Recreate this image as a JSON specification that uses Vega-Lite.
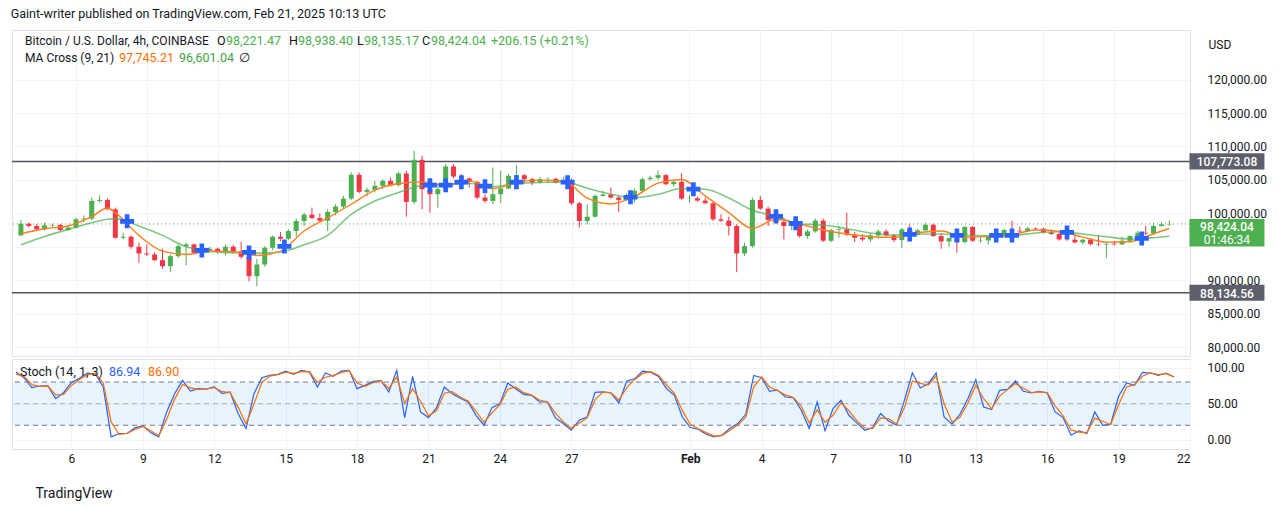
{
"$schema":"https://vega.github.io/schema/vega-lite/v6.json",
"background":"white",
"padding":{"left":10,"top":8,"right":10,"bottom":0},
"title":{"text":"Gaint-writer published on TradingView.com, Feb 21, 2025 10:13 UTC","anchor":"start","fontSize":12.5,"fontWeight":"normal","font":"Roboto","color":"#131722","offset":9},
"config":{"view":{"stroke":"#e0e3eb"},"axis":{"labelFont":"Roboto","labelFontSize":12,"labelColor":"#131722","titleFont":"Roboto","gridColor":"#f0f3fa"}},
"datasets":{
"candles":[
{"t":"2025-01-03T16:00","o":96718,"h":99018,"l":96618,"c":98468,"k":93.8,"d":91},
{"t":"2025-01-04T00:00","o":98468,"h":98618,"l":97868,"c":98118,"k":86.0,"d":88.3},
{"t":"2025-01-04T08:00","o":98118,"h":98368,"l":97468,"c":97618,"k":72.2,"d":76.3},
{"t":"2025-01-04T16:00","o":97618,"h":98618,"l":97418,"c":98218,"k":74.5,"d":73.8},
{"t":"2025-01-05T00:00","o":98218,"h":98468,"l":97968,"c":98268,"k":74.9,"d":74.8},
{"t":"2025-01-05T08:00","o":98268,"h":98418,"l":97368,"c":97518,"k":56.9,"d":62.3},
{"t":"2025-01-05T16:00","o":97518,"h":98318,"l":97368,"c":97868,"k":65.2,"d":62.7},
{"t":"2025-01-06T00:00","o":97868,"h":99368,"l":97768,"c":99118,"k":79.5,"d":75.3},
{"t":"2025-01-06T08:00","o":99118,"h":99718,"l":98718,"c":99218,"k":85.1,"d":83.5},
{"t":"2025-01-06T16:00","o":99218,"h":102368,"l":99018,"c":101868,"k":92.5,"d":90.3},
{"t":"2025-01-07T00:00","o":101868,"h":102718,"l":101618,"c":102018,"k":91.5,"d":91.9},
{"t":"2025-01-07T08:00","o":102018,"h":102218,"l":100468,"c":100618,"k":73.1,"d":78.7},
{"t":"2025-01-07T16:00","o":100618,"h":100868,"l":96218,"c":96368,"k":3.9,"d":24.6},
{"t":"2025-01-08T00:00","o":96368,"h":97118,"l":96118,"c":96518,"k":8.5,"d":7.2},
{"t":"2025-01-08T08:00","o":96518,"h":96718,"l":94718,"c":95018,"k":8.5,"d":8.5},
{"t":"2025-01-08T16:00","o":95018,"h":95618,"l":92618,"c":94018,"k":16.3,"d":14.0},
{"t":"2025-01-09T00:00","o":94018,"h":95368,"l":93618,"c":93868,"k":19.1,"d":18.3},
{"t":"2025-01-09T08:00","o":93868,"h":94218,"l":92868,"c":93018,"k":9.4,"d":12.3},
{"t":"2025-01-09T16:00","o":93018,"h":94718,"l":91718,"c":92118,"k":3.9,"d":5.5},
{"t":"2025-01-10T00:00","o":92118,"h":93868,"l":91218,"c":93618,"k":38.5,"d":28.2},
{"t":"2025-01-10T08:00","o":93618,"h":95368,"l":93368,"c":95118,"k":63.8,"d":56.3},
{"t":"2025-01-10T16:00","o":95118,"h":95618,"l":92268,"c":95368,"k":82.3,"d":76.7},
{"t":"2025-01-11T00:00","o":95368,"h":95518,"l":93868,"c":94118,"k":67.5,"d":72.0},
{"t":"2025-01-11T08:00","o":94118,"h":95018,"l":93618,"c":94468,"k":70.8,"d":69.9},
{"t":"2025-01-11T16:00","o":94468,"h":95018,"l":94118,"c":94718,"k":70.3,"d":70.4},
{"t":"2025-01-12T00:00","o":94718,"h":94868,"l":94018,"c":94218,"k":73.1,"d":72.3},
{"t":"2025-01-12T08:00","o":94218,"h":95368,"l":93718,"c":95018,"k":63.8,"d":66.6},
{"t":"2025-01-12T16:00","o":95018,"h":95318,"l":94018,"c":94318,"k":66.2,"d":65.4},
{"t":"2025-01-13T00:00","o":94318,"h":95768,"l":93218,"c":93518,"k":36.2,"d":45.2},
{"t":"2025-01-13T08:00","o":93518,"h":93718,"l":89868,"c":90618,"k":15.4,"d":21.7},
{"t":"2025-01-13T16:00","o":90618,"h":93218,"l":89118,"c":92368,"k":63.8,"d":49.3},
{"t":"2025-01-14T00:00","o":92368,"h":95118,"l":92018,"c":94868,"k":86.0,"d":79.3},
{"t":"2025-01-14T08:00","o":94868,"h":96718,"l":94518,"c":96518,"k":89.2,"d":88.2},
{"t":"2025-01-14T16:00","o":96518,"h":97218,"l":95868,"c":96218,"k":90.6,"d":90.2},
{"t":"2025-01-15T00:00","o":96218,"h":97618,"l":96018,"c":97368,"k":95.2,"d":93.8},
{"t":"2025-01-15T08:00","o":97368,"h":99218,"l":96518,"c":98868,"k":90.6,"d":92.0},
{"t":"2025-01-15T16:00","o":98868,"h":100118,"l":98118,"c":99818,"k":96.2,"d":94.5},
{"t":"2025-01-16T00:00","o":99818,"h":100868,"l":99118,"c":99318,"k":93.8,"d":94.6},
{"t":"2025-01-16T08:00","o":99318,"h":100018,"l":98618,"c":98918,"k":73.1,"d":79.3},
{"t":"2025-01-16T16:00","o":98918,"h":100618,"l":97368,"c":100218,"k":92.5,"d":86.7},
{"t":"2025-01-17T00:00","o":100218,"h":101368,"l":99718,"c":101018,"k":87.8,"d":89.3},
{"t":"2025-01-17T08:00","o":101018,"h":102618,"l":100718,"c":102218,"k":95.2,"d":92.9},
{"t":"2025-01-17T16:00","o":102218,"h":106118,"l":102018,"c":105768,"k":96.2,"d":95.9},
{"t":"2025-01-18T00:00","o":105768,"h":106118,"l":103018,"c":103218,"k":70.8,"d":78.5},
{"t":"2025-01-18T08:00","o":103218,"h":103868,"l":102518,"c":103518,"k":75.4,"d":74.0},
{"t":"2025-01-18T16:00","o":103518,"h":104868,"l":103118,"c":104118,"k":80.5,"d":79.0},
{"t":"2025-01-19T00:00","o":104118,"h":105118,"l":103618,"c":104868,"k":82.3,"d":81.8},
{"t":"2025-01-19T08:00","o":104868,"h":105368,"l":104018,"c":104218,"k":66.2,"d":71.0},
{"t":"2025-01-19T16:00","o":104218,"h":106218,"l":104018,"c":105968,"k":96.2,"d":87.2},
{"t":"2025-01-20T00:00","o":105968,"h":106368,"l":99518,"c":101718,"k":30.6,"d":50.3},
{"t":"2025-01-20T08:00","o":101718,"h":109368,"l":101368,"c":108018,"k":87.8,"d":70.7},
{"t":"2025-01-20T16:00","o":108018,"h":108618,"l":100618,"c":103618,"k":38.5,"d":53.3},
{"t":"2025-01-21T00:00","o":103618,"h":104118,"l":100118,"c":102868,"k":30.6,"d":33.0},
{"t":"2025-01-21T08:00","o":102868,"h":104018,"l":100868,"c":103618,"k":44.0,"d":40.0},
{"t":"2025-01-21T16:00","o":103618,"h":107368,"l":103218,"c":107018,"k":73.1,"d":64.4},
{"t":"2025-01-22T00:00","o":107018,"h":107368,"l":105218,"c":105518,"k":63.8,"d":66.6},
{"t":"2025-01-22T08:00","o":105518,"h":105868,"l":104368,"c":105218,"k":57.4,"d":59.3},
{"t":"2025-01-22T16:00","o":105218,"h":105368,"l":103868,"c":104718,"k":52.3,"d":53.8},
{"t":"2025-01-23T00:00","o":104718,"h":104868,"l":102118,"c":102368,"k":33.8,"d":39.4},
{"t":"2025-01-23T08:00","o":102368,"h":102868,"l":101518,"c":101868,"k":20.0,"d":24.1},
{"t":"2025-01-23T16:00","o":101868,"h":106868,"l":101368,"c":102868,"k":44.5,"d":37.2},
{"t":"2025-01-24T00:00","o":102868,"h":106368,"l":101518,"c":103718,"k":50.0,"d":48.4},
{"t":"2025-01-24T08:00","o":103718,"h":105868,"l":103618,"c":105618,"k":78.6,"d":70.0},
{"t":"2025-01-24T16:00","o":105618,"h":107218,"l":105118,"c":105718,"k":70.8,"d":73.2},
{"t":"2025-01-25T00:00","o":105718,"h":105868,"l":104518,"c":105118,"k":62.9,"d":65.2},
{"t":"2025-01-25T08:00","o":105118,"h":105318,"l":104218,"c":104618,"k":61.5,"d":62.0},
{"t":"2025-01-25T16:00","o":104618,"h":105418,"l":104468,"c":105118,"k":52.3,"d":55.1},
{"t":"2025-01-26T00:00","o":105118,"h":105368,"l":104618,"c":105168,"k":52.3,"d":52.3},
{"t":"2025-01-26T08:00","o":105168,"h":105318,"l":104468,"c":104618,"k":30.2,"d":36.8},
{"t":"2025-01-26T16:00","o":104618,"h":105518,"l":104368,"c":104868,"k":22.3,"d":24.7},
{"t":"2025-01-27T00:00","o":104868,"h":105218,"l":101218,"c":101518,"k":13.1,"d":15.9},
{"t":"2025-01-27T08:00","o":101518,"h":101718,"l":97868,"c":98868,"k":26.9,"d":22.7},
{"t":"2025-01-27T16:00","o":98868,"h":101368,"l":98368,"c":99518,"k":31.5,"d":30.2},
{"t":"2025-01-28T00:00","o":99518,"h":102868,"l":99368,"c":102618,"k":65.7,"d":55.5},
{"t":"2025-01-28T08:00","o":102618,"h":103368,"l":102518,"c":102818,"k":66.2,"d":66.0},
{"t":"2025-01-28T16:00","o":102818,"h":103868,"l":102218,"c":102368,"k":64.8,"d":65.3},
{"t":"2025-01-29T00:00","o":102368,"h":102618,"l":100218,"c":102018,"k":50.9,"d":55.0},
{"t":"2025-01-29T08:00","o":102018,"h":103018,"l":101868,"c":102618,"k":81.4,"d":72.3},
{"t":"2025-01-29T16:00","o":102618,"h":103718,"l":101618,"c":103368,"k":84.6,"d":83.6},
{"t":"2025-01-30T00:00","o":103368,"h":105368,"l":103018,"c":105118,"k":95.2,"d":92.0},
{"t":"2025-01-30T08:00","o":105118,"h":105618,"l":104868,"c":105318,"k":93.8,"d":94.3},
{"t":"2025-01-30T16:00","o":105318,"h":106418,"l":105018,"c":105718,"k":87.8,"d":89.6},
{"t":"2025-01-31T00:00","o":105718,"h":105918,"l":104218,"c":104368,"k":70.8,"d":75.9},
{"t":"2025-01-31T08:00","o":104368,"h":104868,"l":104018,"c":104718,"k":61.5,"d":64.3},
{"t":"2025-01-31T16:00","o":104718,"h":106018,"l":102018,"c":102218,"k":31.5,"d":40.6},
{"t":"2025-02-01T00:00","o":102218,"h":102718,"l":101618,"c":102268,"k":16.8,"d":21.3},
{"t":"2025-02-01T08:00","o":102268,"h":102518,"l":101718,"c":101918,"k":14.5,"d":15.2},
{"t":"2025-02-01T16:00","o":101918,"h":102368,"l":101368,"c":101518,"k":7.5,"d":9.7},
{"t":"2025-02-02T00:00","o":101518,"h":101718,"l":98868,"c":99118,"k":3.9,"d":5.0},
{"t":"2025-02-02T08:00","o":99118,"h":99868,"l":98718,"c":98918,"k":6.2,"d":5.5},
{"t":"2025-02-02T16:00","o":98918,"h":99518,"l":96718,"c":98118,"k":15.9,"d":13.0},
{"t":"2025-02-03T00:00","o":98118,"h":98368,"l":91218,"c":94018,"k":22.3,"d":20.4},
{"t":"2025-02-03T08:00","o":94018,"h":95618,"l":93618,"c":95118,"k":35.2,"d":31.3},
{"t":"2025-02-03T16:00","o":95118,"h":102368,"l":94868,"c":102018,"k":89.2,"d":73.0},
{"t":"2025-02-04T00:00","o":102018,"h":102618,"l":100518,"c":100718,"k":86.0,"d":87.0},
{"t":"2025-02-04T08:00","o":100718,"h":101018,"l":98118,"c":99018,"k":67.1,"d":72.8},
{"t":"2025-02-04T16:00","o":99018,"h":100518,"l":98418,"c":98718,"k":68.9,"d":68.3},
{"t":"2025-02-05T00:00","o":98718,"h":99368,"l":96118,"c":98118,"k":59.2,"d":62.1},
{"t":"2025-02-05T08:00","o":98118,"h":98618,"l":97518,"c":98368,"k":58.3,"d":58.6},
{"t":"2025-02-05T16:00","o":98368,"h":98868,"l":96368,"c":96618,"k":40.8,"d":46.1},
{"t":"2025-02-06T00:00","o":96618,"h":97618,"l":96218,"c":97318,"k":15.4,"d":23.0},
{"t":"2025-02-06T08:00","o":97318,"h":99218,"l":97118,"c":98918,"k":52.3,"d":41.2},
{"t":"2025-02-06T16:00","o":98918,"h":99218,"l":95718,"c":95918,"k":12.2,"d":24.2},
{"t":"2025-02-07T00:00","o":95918,"h":97718,"l":95718,"c":97518,"k":43.1,"d":33.9},
{"t":"2025-02-07T08:00","o":97518,"h":98118,"l":96368,"c":97618,"k":54.6,"d":51.1},
{"t":"2025-02-07T16:00","o":97618,"h":100118,"l":96618,"c":96818,"k":33.8,"d":40.1},
{"t":"2025-02-08T00:00","o":96818,"h":97218,"l":95718,"c":96368,"k":23.2,"d":26.3},
{"t":"2025-02-08T08:00","o":96368,"h":96868,"l":95868,"c":96118,"k":13.1,"d":16.2},
{"t":"2025-02-08T16:00","o":96118,"h":97018,"l":95718,"c":96718,"k":16.8,"d":15.7},
{"t":"2025-02-09T00:00","o":96718,"h":97618,"l":96218,"c":97318,"k":36.2,"d":30.3},
{"t":"2025-02-09T08:00","o":97318,"h":97618,"l":96518,"c":96718,"k":26.0,"d":29.1},
{"t":"2025-02-09T16:00","o":96718,"h":96918,"l":95718,"c":96018,"k":20.0,"d":21.8},
{"t":"2025-02-10T00:00","o":96018,"h":97818,"l":94868,"c":97618,"k":54.6,"d":44.2},
{"t":"2025-02-10T08:00","o":97618,"h":98368,"l":96618,"c":96818,"k":92.9,"d":81.4},
{"t":"2025-02-10T16:00","o":96818,"h":97718,"l":96718,"c":97468,"k":71.7,"d":78.1},
{"t":"2025-02-11T00:00","o":97468,"h":98618,"l":97318,"c":98318,"k":77.7,"d":75.9},
{"t":"2025-02-11T08:00","o":98318,"h":98518,"l":96518,"c":96618,"k":92.5,"d":88.1},
{"t":"2025-02-11T16:00","o":96618,"h":97018,"l":94718,"c":95818,"k":31.5,"d":49.9},
{"t":"2025-02-12T00:00","o":95818,"h":96368,"l":95018,"c":96318,"k":21.4,"d":24.5},
{"t":"2025-02-12T08:00","o":96318,"h":96718,"l":94118,"c":95718,"k":35.2,"d":31.0},
{"t":"2025-02-12T16:00","o":95718,"h":98118,"l":95518,"c":97968,"k":56.9,"d":50.4},
{"t":"2025-02-13T00:00","o":97968,"h":98118,"l":95718,"c":95918,"k":83.2,"d":75.3},
{"t":"2025-02-13T08:00","o":95918,"h":96518,"l":95618,"c":95968,"k":45.4,"d":56.8},
{"t":"2025-02-13T16:00","o":95968,"h":96718,"l":95368,"c":96518,"k":41.7,"d":42.8},
{"t":"2025-02-14T00:00","o":96518,"h":97718,"l":96368,"c":96718,"k":68.5,"d":60.5},
{"t":"2025-02-14T08:00","o":96718,"h":97718,"l":96368,"c":97518,"k":69.8,"d":69.5},
{"t":"2025-02-14T16:00","o":97518,"h":98868,"l":96718,"c":97418,"k":81.4,"d":77.9},
{"t":"2025-02-15T00:00","o":97418,"h":98018,"l":97118,"c":97318,"k":67.1,"d":71.4},
{"t":"2025-02-15T08:00","o":97318,"h":98018,"l":97218,"c":97768,"k":64.8,"d":65.5},
{"t":"2025-02-15T16:00","o":97768,"h":97918,"l":97418,"c":97718,"k":67.1,"d":66.4},
{"t":"2025-02-16T00:00","o":97718,"h":97868,"l":97018,"c":97168,"k":64.8,"d":65.5},
{"t":"2025-02-16T08:00","o":97168,"h":97618,"l":96768,"c":96918,"k":38.5,"d":47.0},
{"t":"2025-02-16T16:00","o":96918,"h":97468,"l":95918,"c":96118,"k":30.6,"d":33.2},
{"t":"2025-02-17T00:00","o":96118,"h":96718,"l":95868,"c":96068,"k":6.2,"d":13.5},
{"t":"2025-02-17T08:00","o":96068,"h":96868,"l":95518,"c":95668,"k":12.2,"d":10.4},
{"t":"2025-02-17T16:00","o":95668,"h":96218,"l":95368,"c":96068,"k":8.5,"d":9.7},
{"t":"2025-02-18T00:00","o":96068,"h":96318,"l":95218,"c":95418,"k":38.5,"d":29.6},
{"t":"2025-02-18T08:00","o":95418,"h":96718,"l":95118,"c":95368,"k":20.0,"d":25.6},
{"t":"2025-02-18T16:00","o":95368,"h":95818,"l":93318,"c":95468,"k":21.4,"d":21.0},
{"t":"2025-02-19T00:00","o":95468,"h":95918,"l":95218,"c":95368,"k":60.2,"d":48.5},
{"t":"2025-02-19T08:00","o":95368,"h":96518,"l":95318,"c":95918,"k":78.6,"d":73.1},
{"t":"2025-02-19T16:00","o":95918,"h":96718,"l":95718,"c":96618,"k":75.4,"d":76.4},
{"t":"2025-02-20T00:00","o":96618,"h":97368,"l":96418,"c":97118,"k":93.4,"d":88.0},
{"t":"2025-02-20T08:00","o":97118,"h":98118,"l":96718,"c":97018,"k":92.5,"d":92.8},
{"t":"2025-02-20T16:00","o":97018,"h":98618,"l":96718,"c":98118,"k":89.2,"d":90.2},
{"t":"2025-02-21T00:00","o":98118,"h":98718,"l":98018,"c":98368,"k":92.5,"d":91.6},
{"t":"2025-02-21T08:00","o":98368,"h":98938,"l":98135,"c":98424,"k":86.94,"d":86.9}
],
"ma":[
{"t":"2025-01-03T16:00","f":96968,"s":95318},
{"t":"2025-01-04T16:00","f":97718,"s":96568},
{"t":"2025-01-05T16:00","f":98118,"s":97618},
{"t":"2025-01-06T16:00","f":99518,"s":98618},
{"t":"2025-01-07T08:00","f":100818,"s":99118},
{"t":"2025-01-07T16:00","f":100118,"s":99218},
{"t":"2025-01-08T16:00","f":96718,"s":98118},
{"t":"2025-01-09T16:00","f":94368,"s":96718},
{"t":"2025-01-10T16:00","f":93868,"s":95018},
{"t":"2025-01-11T16:00","f":94368,"s":94368},
{"t":"2025-01-12T16:00","f":94268,"s":94118},
{"t":"2025-01-13T16:00","f":93718,"s":94068},
{"t":"2025-01-14T16:00","f":94368,"s":94218},
{"t":"2025-01-15T16:00","f":97368,"s":95318},
{"t":"2025-01-16T16:00","f":99318,"s":96718},
{"t":"2025-01-17T16:00","f":101368,"s":99868},
{"t":"2025-01-18T16:00","f":103468,"s":101868},
{"t":"2025-01-19T16:00","f":104468,"s":103118},
{"t":"2025-01-20T16:00","f":104718,"s":104168},
{"t":"2025-01-21T16:00","f":104268,"s":104268},
{"t":"2025-01-22T16:00","f":104868,"s":104468},
{"t":"2025-01-23T16:00","f":103718,"s":104018},
{"t":"2025-01-24T16:00","f":104618,"s":104468},
{"t":"2025-01-25T16:00","f":104968,"s":104618},
{"t":"2025-01-26T16:00","f":104868,"s":104718},
{"t":"2025-01-27T16:00","f":102268,"s":103768},
{"t":"2025-01-28T16:00","f":101418,"s":102868},
{"t":"2025-01-29T16:00","f":102518,"s":102368},
{"t":"2025-01-30T16:00","f":104518,"s":102868},
{"t":"2025-01-31T16:00","f":105068,"s":103718},
{"t":"2025-02-01T16:00","f":102618,"s":103618},
{"t":"2025-02-02T16:00","f":100118,"s":102318},
{"t":"2025-02-03T16:00","f":97768,"s":100468},
{"t":"2025-02-04T16:00","f":99118,"s":99568},
{"t":"2025-02-05T16:00","f":98418,"s":98468},
{"t":"2025-02-06T16:00","f":97518,"s":98268},
{"t":"2025-02-07T16:00","f":96918,"s":97718},
{"t":"2025-02-08T16:00","f":96518,"s":97068},
{"t":"2025-02-09T16:00","f":96418,"s":96768},
{"t":"2025-02-10T16:00","f":97118,"s":96918},
{"t":"2025-02-11T16:00","f":97368,"s":96918},
{"t":"2025-02-12T16:00","f":96418,"s":96718},
{"t":"2025-02-13T16:00","f":96568,"s":96668},
{"t":"2025-02-14T16:00","f":96818,"s":96718},
{"t":"2025-02-15T16:00","f":97518,"s":97068},
{"t":"2025-02-16T16:00","f":97318,"s":97268},
{"t":"2025-02-17T16:00","f":96468,"s":96918},
{"t":"2025-02-18T16:00","f":95718,"s":96518},
{"t":"2025-02-19T16:00","f":95768,"s":96168},
{"t":"2025-02-20T16:00","f":96968,"s":96368},
{"t":"2025-02-21T08:00","f":97745.21,"s":96601.04}
],
"crosses":[
{"t":"2025-01-08T04:00","p":98818},
{"t":"2025-01-11T08:00","p":94468},
{"t":"2025-01-13T08:00","p":94168},
{"t":"2025-01-14T20:00","p":95068},
{"t":"2025-01-21T00:00","p":104218},
{"t":"2025-01-21T16:00","p":104218},
{"t":"2025-01-22T08:00","p":104668},
{"t":"2025-01-23T08:00","p":104068},
{"t":"2025-01-24T16:00","p":104668},
{"t":"2025-01-26T20:00","p":104668},
{"t":"2025-01-29T12:00","p":102418},
{"t":"2025-02-01T04:00","p":103618},
{"t":"2025-02-04T16:00","p":99568},
{"t":"2025-02-05T12:00","p":98518},
{"t":"2025-02-10T08:00","p":96868},
{"t":"2025-02-12T08:00","p":96718},
{"t":"2025-02-14T00:00","p":96718},
{"t":"2025-02-14T16:00","p":96718},
{"t":"2025-02-17T00:00","p":97168},
{"t":"2025-02-20T04:00","p":96268}
],
"levels":[{"p":107773.08,"lab":"107,773.08"},{"p":88134.56,"lab":"88,134.56"}],
"last":[{"p":98424.04,"lab":"98,424.04"}]
},
"vconcat":[
{
"width":1178,"height":326,
"layer":[
{"data":{"name":"candles"},"mark":{"type":"rule","color":"#f23645"},
 "encoding":{
  "x":{"field":"t","type":"temporal","scale":{"domain":[{"year":2025,"month":1,"date":3,"hours":12},{"year":2025,"month":2,"date":22}]},
   "axis":{"orient":"bottom","labels":false,"ticks":false,"domain":false,"title":null,"grid":true,"values":[{"year":2025,"month":1,"date":6},{"year":2025,"month":1,"date":9},{"year":2025,"month":1,"date":12},{"year":2025,"month":1,"date":15},{"year":2025,"month":1,"date":18},{"year":2025,"month":1,"date":21},{"year":2025,"month":1,"date":24},{"year":2025,"month":1,"date":27},{"year":2025,"month":2,"date":1},{"year":2025,"month":2,"date":4},{"year":2025,"month":2,"date":7},{"year":2025,"month":2,"date":10},{"year":2025,"month":2,"date":13},{"year":2025,"month":2,"date":16},{"year":2025,"month":2,"date":19},{"year":2025,"month":2,"date":22}]}},
  "y":{"field":"l","type":"quantitative","scale":{"domain":[78700,127400],"nice":false,"zero":false},
   "axis":{"orient":"right","values":[80000,85000,90000,95000,100000,105000,110000,115000,120000],"format":",.2f","labelExpr":"datum.value == 95000 ? '' : datum.label","ticks":false,"domain":false,"labelPadding":17,"grid":true,"title":"USD","titleAngle":0,"titleAlign":"left","titleBaseline":"middle","titleX":18,"titleY":14,"titleFontSize":12,"titleFontWeight":"normal","titleColor":"#131722"}},
  "y2":{"field":"h"},
  "color":{"condition":{"test":"datum.c >= datum.o","value":"#4caf50"},"value":"#f23645"}
 }},
{"data":{"name":"levels"},"mark":{"type":"rule","color":"#50535e","strokeWidth":1.5},
 "encoding":{"y":{"field":"p","type":"quantitative"}}},
{"data":{"name":"last"},"mark":{"type":"rule","color":"#4caf50","strokeDash":[1,3],"strokeWidth":1},
 "encoding":{"y":{"field":"p","type":"quantitative"}}},
{"data":{"name":"candles"},"mark":{"type":"bar","size":5},
 "encoding":{
  "x":{"field":"t","type":"temporal"},
  "y":{"field":"o","type":"quantitative"},
  "y2":{"field":"c"},
  "color":{"condition":{"test":"datum.c >= datum.o","value":"#4caf50"},"value":"#f23645"}
 }},
{"data":{"name":"ma"},"mark":{"type":"line","color":"#4caf50","strokeWidth":1.6,"opacity":0.7,"interpolate":"monotone"},
 "encoding":{"x":{"field":"t","type":"temporal"},"y":{"field":"s","type":"quantitative"}}},
{"data":{"name":"ma"},"mark":{"type":"line","color":"#ff7f1e","strokeWidth":1.4,"interpolate":"monotone"},
 "encoding":{"x":{"field":"t","type":"temporal"},"y":{"field":"f","type":"quantitative"}}},
{"data":{"name":"crosses"},"mark":{"type":"point","filled":true,"opacity":1,"color":"#2962ff","size":544,"shape":"M-0.2,-0.6H0.2V-0.2H0.6V0.2H0.2V0.6H-0.2V0.2H-0.6V-0.2H-0.2Z"},
 "encoding":{"x":{"field":"t","type":"temporal"},"y":{"field":"p","type":"quantitative"}}},
{"data":{"name":"levels"},"mark":{"type":"point","filled":true,"opacity":1,"color":"#5d606b","size":22500,"clip":false,"shape":"M-0.5,-0.107H0.5V0.107H-0.5Z"},
 "encoding":{"x":{"datum":{"year":2025,"month":2,"date":23,"hours":18,"minutes":40},"type":"temporal"},"y":{"field":"p","type":"quantitative"}}},
{"data":{"name":"levels"},"mark":{"type":"text","color":"white","font":"Roboto","fontSize":12,"fontWeight":500,"align":"center","baseline":"middle","dy":1,"clip":false},
 "encoding":{"x":{"datum":{"year":2025,"month":2,"date":23,"hours":18,"minutes":40},"type":"temporal"},"y":{"field":"p","type":"quantitative"},"text":{"field":"lab"}}},
{"data":{"name":"last"},"mark":{"type":"point","filled":true,"opacity":1,"color":"#4caf50","size":22500,"clip":false,"shape":"M-0.5,-0.065H0.5V0.3H-0.5Z"},
 "encoding":{"x":{"datum":{"year":2025,"month":2,"date":23,"hours":18,"minutes":40},"type":"temporal"},"y":{"field":"p","type":"quantitative"}}},
{"data":{"name":"last"},"mark":{"type":"text","color":"white","font":"Roboto","fontSize":12,"fontWeight":500,"align":"center","baseline":"middle","dy":3.5,"clip":false},
 "encoding":{"x":{"datum":{"year":2025,"month":2,"date":23,"hours":18,"minutes":40},"type":"temporal"},"y":{"field":"p","type":"quantitative"},"text":{"field":"lab"}}},
{"data":{"name":"last"},"mark":{"type":"text","color":"white","font":"Roboto","fontSize":12,"align":"center","baseline":"middle","dy":16.5,"clip":false},
 "encoding":{"x":{"datum":{"year":2025,"month":2,"date":23,"hours":18,"minutes":40},"type":"temporal"},"y":{"field":"p","type":"quantitative"},"text":{"value":"01:46:34"}}},
{"data":{"values":[{}]},"mark":{"type":"text","align":"left","baseline":"middle","dx":8,"font":"Roboto","fontSize":12,"color":"#131722"},
 "encoding":{"x":{"datum":{"year":2025,"month":1,"date":3,"hours":12},"type":"temporal"},"y":{"datum":125750,"type":"quantitative"},"text":{"value":"Bitcoin / U.S. Dollar, 4h, COINBASE"}}},
{"data":{"values":[{}]},"mark":{"type":"text","align":"left","baseline":"middle","dx":200,"font":"Roboto","fontSize":12.5,"color":"#131722"},
 "encoding":{"x":{"datum":{"year":2025,"month":1,"date":3,"hours":12},"type":"temporal"},"y":{"datum":125750,"type":"quantitative"},"text":{"value":"O"}}},
{"data":{"values":[{}]},"mark":{"type":"text","align":"left","baseline":"middle","dx":209,"font":"Roboto","fontSize":12.5,"color":"#4caf50"},
 "encoding":{"x":{"datum":{"year":2025,"month":1,"date":3,"hours":12},"type":"temporal"},"y":{"datum":125750,"type":"quantitative"},"text":{"value":"98,221.47"}}},
{"data":{"values":[{}]},"mark":{"type":"text","align":"left","baseline":"middle","dx":272,"font":"Roboto","fontSize":12.5,"color":"#131722"},
 "encoding":{"x":{"datum":{"year":2025,"month":1,"date":3,"hours":12},"type":"temporal"},"y":{"datum":125750,"type":"quantitative"},"text":{"value":"H"}}},
{"data":{"values":[{}]},"mark":{"type":"text","align":"left","baseline":"middle","dx":281,"font":"Roboto","fontSize":12.5,"color":"#4caf50"},
 "encoding":{"x":{"datum":{"year":2025,"month":1,"date":3,"hours":12},"type":"temporal"},"y":{"datum":125750,"type":"quantitative"},"text":{"value":"98,938.40"}}},
{"data":{"values":[{}]},"mark":{"type":"text","align":"left","baseline":"middle","dx":340,"font":"Roboto","fontSize":12.5,"color":"#131722"},
 "encoding":{"x":{"datum":{"year":2025,"month":1,"date":3,"hours":12},"type":"temporal"},"y":{"datum":125750,"type":"quantitative"},"text":{"value":"L"}}},
{"data":{"values":[{}]},"mark":{"type":"text","align":"left","baseline":"middle","dx":347,"font":"Roboto","fontSize":12.5,"color":"#4caf50"},
 "encoding":{"x":{"datum":{"year":2025,"month":1,"date":3,"hours":12},"type":"temporal"},"y":{"datum":125750,"type":"quantitative"},"text":{"value":"98,135.17"}}},
{"data":{"values":[{}]},"mark":{"type":"text","align":"left","baseline":"middle","dx":405,"font":"Roboto","fontSize":12.5,"color":"#131722"},
 "encoding":{"x":{"datum":{"year":2025,"month":1,"date":3,"hours":12},"type":"temporal"},"y":{"datum":125750,"type":"quantitative"},"text":{"value":"C"}}},
{"data":{"values":[{}]},"mark":{"type":"text","align":"left","baseline":"middle","dx":414,"font":"Roboto","fontSize":12.5,"color":"#4caf50"},
 "encoding":{"x":{"datum":{"year":2025,"month":1,"date":3,"hours":12},"type":"temporal"},"y":{"datum":125750,"type":"quantitative"},"text":{"value":"98,424.04"}}},
{"data":{"values":[{}]},"mark":{"type":"text","align":"left","baseline":"middle","dx":474,"font":"Roboto","fontSize":12.5,"color":"#4caf50"},
 "encoding":{"x":{"datum":{"year":2025,"month":1,"date":3,"hours":12},"type":"temporal"},"y":{"datum":125750,"type":"quantitative"},"text":{"value":"+206.15 (+0.21%)"}}},
{"data":{"values":[{}]},"mark":{"type":"text","align":"left","baseline":"middle","dx":8,"font":"Roboto","fontSize":12,"color":"#131722"},
 "encoding":{"x":{"datum":{"year":2025,"month":1,"date":3,"hours":12},"type":"temporal"},"y":{"datum":123200,"type":"quantitative"},"text":{"value":"MA Cross (9, 21)"}}},
{"data":{"values":[{}]},"mark":{"type":"text","align":"left","baseline":"middle","dx":102,"font":"Roboto","fontSize":12.5,"color":"#ff6d00"},
 "encoding":{"x":{"datum":{"year":2025,"month":1,"date":3,"hours":12},"type":"temporal"},"y":{"datum":123200,"type":"quantitative"},"text":{"value":"97,745.21"}}},
{"data":{"values":[{}]},"mark":{"type":"text","align":"left","baseline":"middle","dx":162,"font":"Roboto","fontSize":12.5,"color":"#43a047"},
 "encoding":{"x":{"datum":{"year":2025,"month":1,"date":3,"hours":12},"type":"temporal"},"y":{"datum":123200,"type":"quantitative"},"text":{"value":"96,601.04"}}},
{"data":{"values":[{}]},"mark":{"type":"text","align":"left","baseline":"middle","dx":222,"font":"Roboto","fontSize":12.5,"color":"#131722"},
 "encoding":{"x":{"datum":{"year":2025,"month":1,"date":3,"hours":12},"type":"temporal"},"y":{"datum":123200,"type":"quantitative"},"text":{"value":"∅"}}}
]
},
{
"width":1178,"height":90,
"layer":[
{"data":{"values":[{}]},"mark":{"type":"rect","color":"#2196f3","opacity":0.1},
 "encoding":{"x":{"datum":{"year":2025,"month":1,"date":3,"hours":12},"type":"temporal","scale":{"domain":[{"year":2025,"month":1,"date":3,"hours":12},{"year":2025,"month":2,"date":22}]}},"x2":{"datum":{"year":2025,"month":2,"date":22}},
  "y":{"datum":80,"type":"quantitative","scale":{"domain":[-13,112],"nice":false,"zero":false}},"y2":{"datum":20}}},
{"data":{"values":[{"v":80},{"v":20}]},"mark":{"type":"rule","color":"#787b86","strokeDash":[5,4],"strokeWidth":1},
 "encoding":{"y":{"field":"v","type":"quantitative"}}},
{"data":{"values":[{"v":50}]},"mark":{"type":"rule","color":"#787b86","strokeDash":[5,4],"strokeWidth":1,"opacity":0.5},
 "encoding":{"y":{"field":"v","type":"quantitative"}}},
{"data":{"name":"candles"},"mark":{"type":"line","color":"#2962ff","strokeWidth":1.2},
 "encoding":{
  "x":{"field":"t","type":"temporal",
   "axis":{"orient":"bottom","ticks":false,"domain":false,"grid":true,"labelPadding":4,"format":"%-d","labelExpr":"date(datum.value) == 1 ? 'Feb' : datum.label","labelFontWeight":{"condition":{"test":"date(datum.value) == 1","value":"bold"},"value":"normal"},
    "values":[{"year":2025,"month":1,"date":6},{"year":2025,"month":1,"date":9},{"year":2025,"month":1,"date":12},{"year":2025,"month":1,"date":15},{"year":2025,"month":1,"date":18},{"year":2025,"month":1,"date":21},{"year":2025,"month":1,"date":24},{"year":2025,"month":1,"date":27},{"year":2025,"month":2,"date":1},{"year":2025,"month":2,"date":4},{"year":2025,"month":2,"date":7},{"year":2025,"month":2,"date":10},{"year":2025,"month":2,"date":13},{"year":2025,"month":2,"date":16},{"year":2025,"month":2,"date":19},{"year":2025,"month":2,"date":22}],
    "title":"TradingView","titleX":23,"titleY":44,"titleAlign":"left","titleBaseline":"middle","titleFontSize":14,"titleFontWeight":"normal","titleColor":"#131722"}},
  "y":{"field":"k","type":"quantitative",
   "axis":{"orient":"right","values":[0,50,100],"format":".2f","ticks":false,"domain":false,"labelPadding":17,"grid":true,"title":null}}
 }},
{"data":{"name":"candles"},"mark":{"type":"line","color":"#ff6d00","strokeWidth":1.2},
 "encoding":{"x":{"field":"t","type":"temporal"},"y":{"field":"d","type":"quantitative"}}},
{"data":{"values":[{}]},"mark":{"type":"text","align":"left","baseline":"middle","dx":8,"font":"Roboto","fontSize":12.5,"color":"#131722"},
 "encoding":{"x":{"datum":{"year":2025,"month":1,"date":3,"hours":12},"type":"temporal"},"y":{"datum":93.5,"type":"quantitative"},"text":{"value":"Stoch (14, 1, 3)"}}},
{"data":{"values":[{}]},"mark":{"type":"text","align":"left","baseline":"middle","dx":97,"font":"Roboto","fontSize":12.5,"color":"#2962ff"},
 "encoding":{"x":{"datum":{"year":2025,"month":1,"date":3,"hours":12},"type":"temporal"},"y":{"datum":93.5,"type":"quantitative"},"text":{"value":"86.94"}}},
{"data":{"values":[{}]},"mark":{"type":"text","align":"left","baseline":"middle","dx":136,"font":"Roboto","fontSize":12.5,"color":"#ff6d00"},
 "encoding":{"x":{"datum":{"year":2025,"month":1,"date":3,"hours":12},"type":"temporal"},"y":{"datum":93.5,"type":"quantitative"},"text":{"value":"86.90"}}}
]
}
],
"spacing":1
}
